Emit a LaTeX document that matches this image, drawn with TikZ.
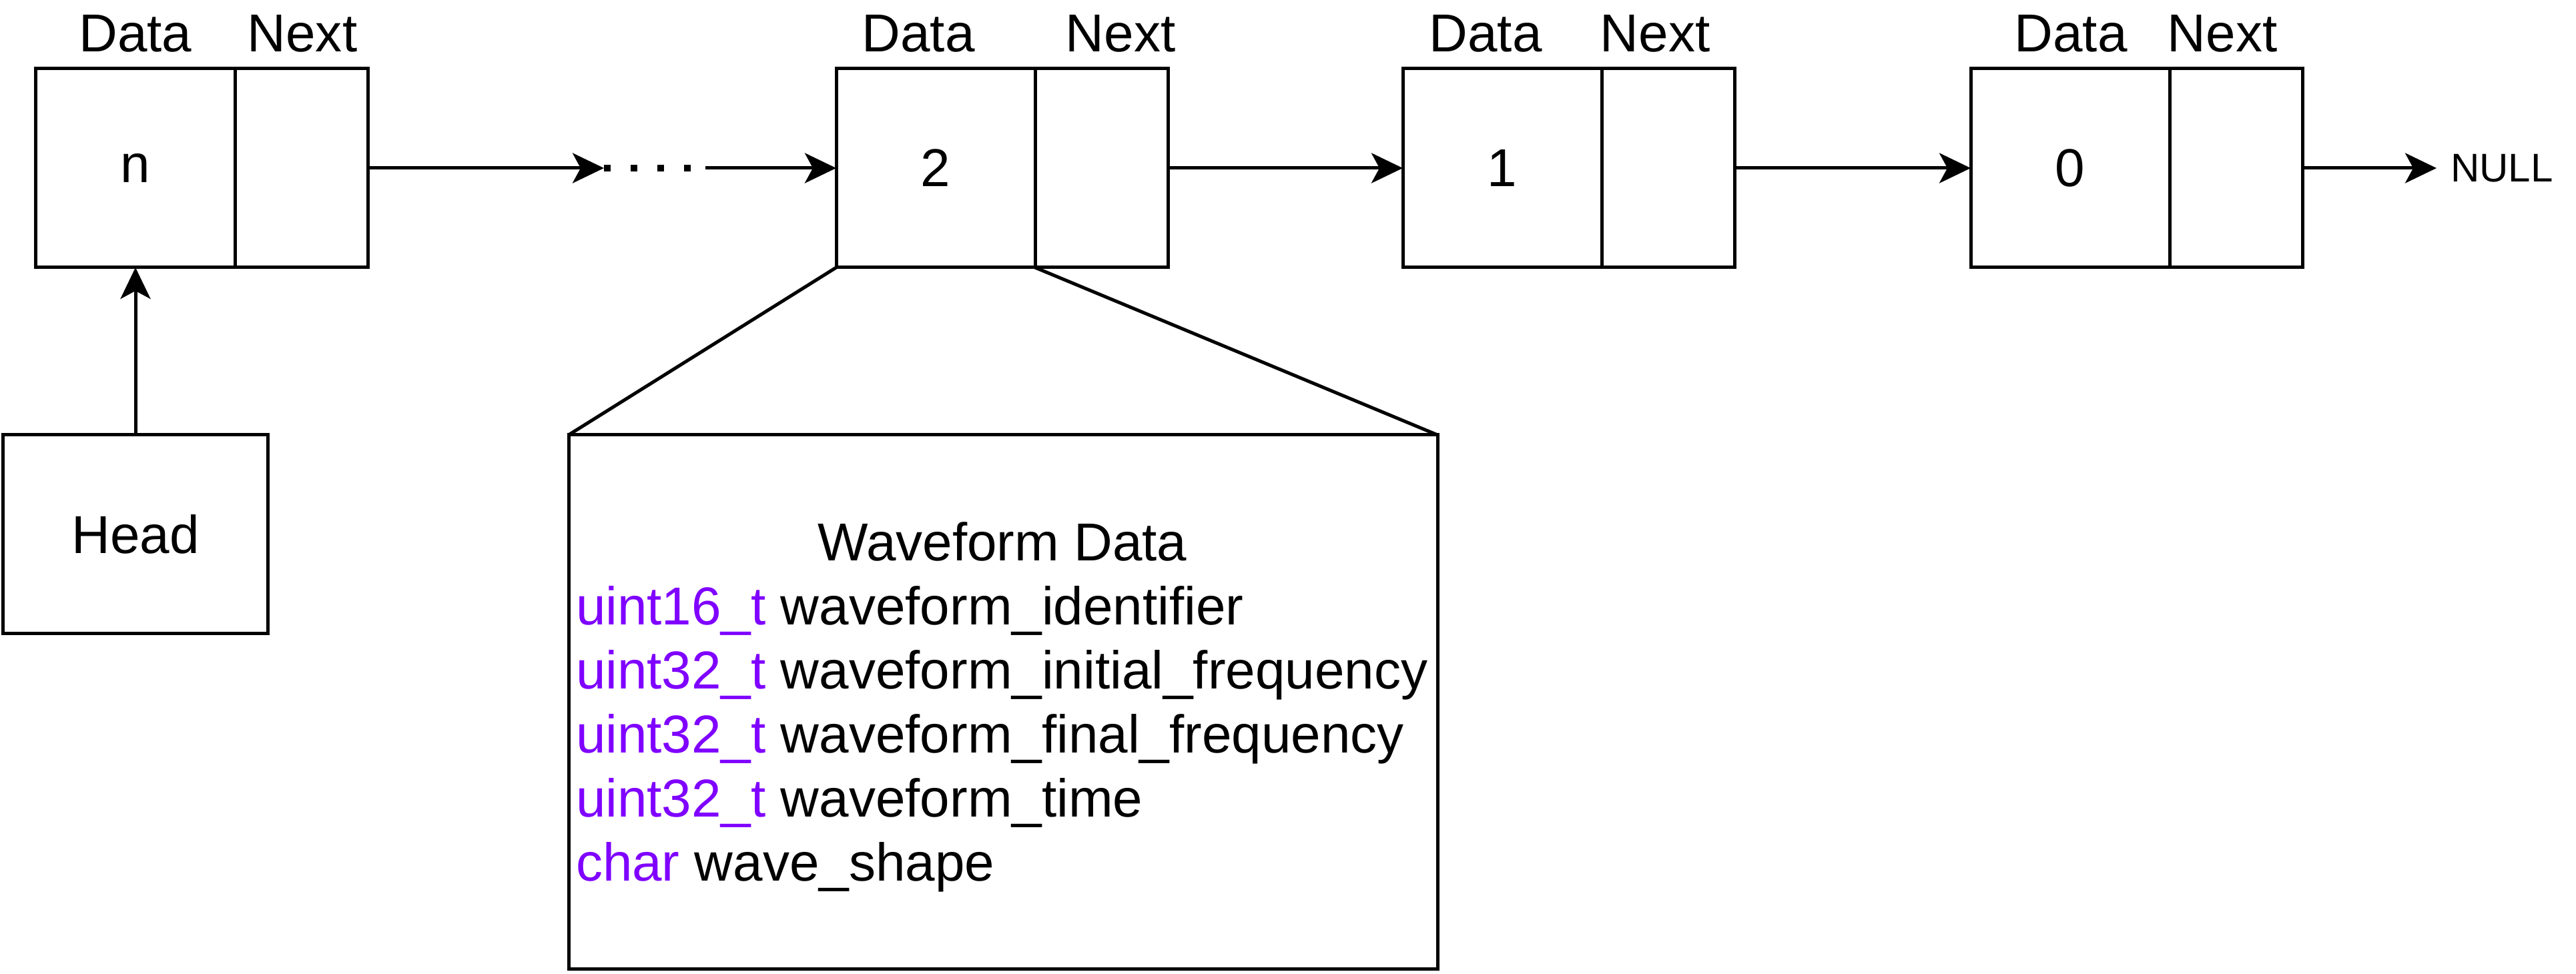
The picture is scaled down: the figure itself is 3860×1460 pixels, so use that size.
\documentclass[tikz,border=0pt]{standalone}
\usepackage{fontspec}
\setmainfont{Liberation Sans}
\usetikzlibrary{arrows.meta}
\definecolor{typ}{RGB}{127,0,255}
\begin{document}
\begin{tikzpicture}[x=0.2pt,y=-0.2pt,
  every node/.style={font=\fontsize{16}{19}\selectfont},
  box/.style={draw, line width=1pt, inner sep=0pt, outer sep=0pt, minimum height=59.6pt},
  datacell/.style={box, minimum width=59.6pt},
  nextcell/.style={box, minimum width=39.8pt, anchor=west},
  lbl/.style={inner sep=0pt},
  arr/.style={line width=1pt, -{Stealth[length=9.4pt, width=9pt, inset=2.4pt]}},
  plain/.style={line width=1pt},
  dots/.style={line width=2pt, dash pattern=on 2pt off 6pt},
  code/.style={anchor=base west, inner sep=0pt}]
\useasboundingbox (0,0) rectangle (3860,1460);

% nodes of the list
\node[datacell] (dn) at (203,252) {n};
\node[nextcell] (nn) at (dn.east) {};
\node[datacell] (d2) at (1402,252) {2};
\node[nextcell] (n2) at (d2.east) {};
\node[datacell] (d1) at (2251,252) {1};
\node[nextcell] (n1) at (d1.east) {};
\node[datacell] (d0) at (3102,252) {0};
\node[nextcell] (n0) at (d0.east) {};

% header labels
\node[lbl] (ldn) at (203,50) {Data};
\node[lbl] (lnn) at (453,50) {Next};
\node[lbl] (ld2) at (1376,50) {Data};
\node[lbl] (ln2) at (1679,50) {Next};
\node[lbl] (ld1) at (2226,50) {Data};
\node[lbl] (ln1) at (2480,50) {Next};
\node[lbl] (ld0) at (3103,50) {Data};
\node[lbl] (ln0) at (3330,50) {Next};

% head
\node[box, minimum width=79.2pt] (head) at (203,801) {Head};
\draw[arr] (head.north) -- (dn.south);

% links
\coordinate (g1) at (905,252);
\coordinate (g2) at (1057,252);
\draw[arr] (nn.east) -- (g1);
\draw[dots] (g1) -- (g2);
\draw[arr] (g2) -- (d2.west);
\draw[arr] (n2.east) -- (d1.west);
\draw[arr] (n1.east) -- (d0.west);
\node[anchor=west, inner sep=4pt, font=\fontsize{12}{14}\selectfont] (null) at (3651,252) {NULL};
\draw[arr] (n0.east) -- (null.west);

% waveform data box
\node[draw, line width=1pt, minimum width=260.4pt, minimum height=160pt, inner sep=0pt, outer sep=0pt] (wf) at (1503,1052) {};
\draw[plain] (d2.south west) -- (wf.north west);
\draw[plain] (n2.south west) -- (wf.north east);

\node[lbl] (wt) at (1502,812) {Waveform Data};
\node[code] (c1) at (862,937) {\textcolor{typ}{uint16\_t} waveform\_identifier};
\node[code] (c2) at (862,1033) {\textcolor{typ}{uint32\_t} waveform\_initial\_frequency};
\node[code] (c3) at (862,1129) {\textcolor{typ}{uint32\_t} waveform\_final\_frequency};
\node[code] (c4) at (862,1225) {\textcolor{typ}{uint32\_t} waveform\_time};
\node[code] (c5) at (862,1321) {\textcolor{typ}{char} wave\_shape};
\end{tikzpicture}
\end{document}
